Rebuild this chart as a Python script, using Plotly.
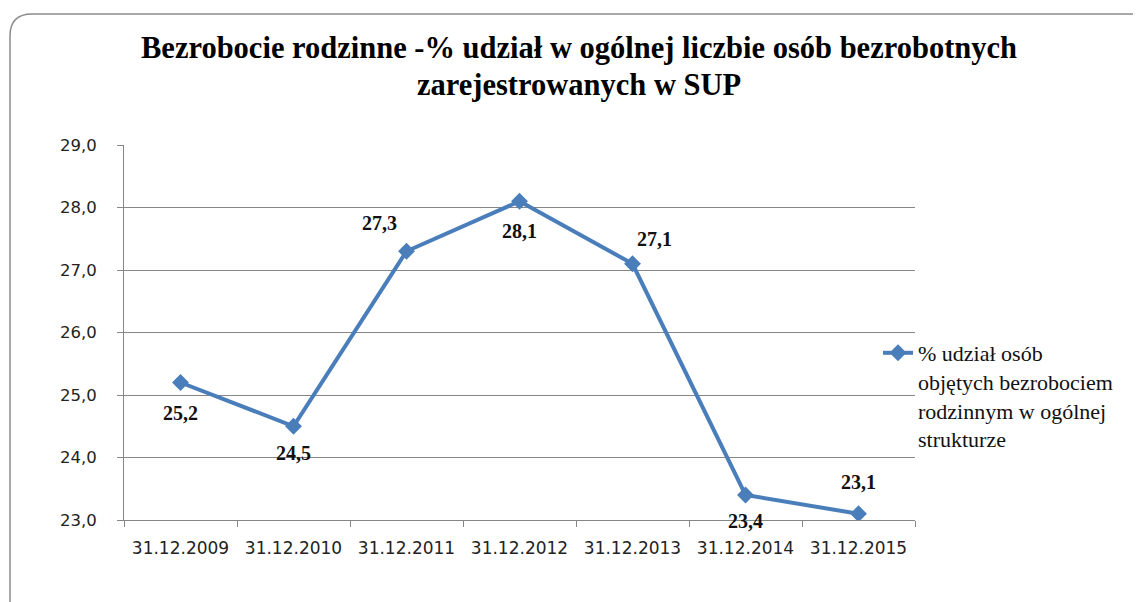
import plotly.graph_objects as go

categories = ["31.12.2009", "31.12.2010", "31.12.2011", "31.12.2012",
              "31.12.2013", "31.12.2014", "31.12.2015"]
values = [25.2, 24.5, 27.3, 28.1, 27.1, 23.4, 23.1]
value_labels = ["25,2", "24,5", "27,3", "28,1", "27,1", "23,4", "23,1"]
series_name = "% udział osób<br>objętych bezrobociem<br>rodzinnym w ogólnej<br>strukturze"
title_lines = ["Bezrobocie rodzinne -% udział w ogólnej liczbie osób bezrobotnych",
               "zarejestrowanych w SUP"]

# label offsets (pixels) - style only
label_shift = [(0, -30), (0, -27), (-27, 28), (0, -30), (22, 25), (0, -26), (0, 32)]

OFF = 8                      # page body margin
W, H = 1141 - OFF, 602 - OFF  # figure size
L, R, T, B = 124, 915, 145, 520   # plot area in screen pixels
LINE = "#4a7ebb"
GRID = "#868686"

fig = go.Figure()
fig.add_trace(go.Scatter(
    x=categories, y=values, mode="lines+markers", name=series_name,
    line=dict(color=LINE, width=4),
    marker=dict(symbol="diamond", size=13, color=LINE),
))

for c, v, t, (dx, dy) in zip(categories, values, value_labels, label_shift):
    fig.add_annotation(x=c, y=v, xref="x", yref="y", text="<b>%s</b>" % t,
                       showarrow=False, xshift=dx, yshift=dy,
                       font=dict(family="Liberation Serif", size=20, color="#111"))

def px(xp):
    return (xp - L) / (R - L)

def py(yp):
    return (B - yp) / (B - T)

# title lines
for txt, cy in zip(title_lines, [48, 85]):
    fig.add_annotation(x=px(579), y=py(cy), xref="paper", yref="paper",
                       xanchor="center", yanchor="middle", showarrow=False,
                       text="<b>%s</b>" % txt,
                       font=dict(family="Liberation Serif", size=30.5, color="#000"))

r = 22
path = ("M {x0},{y0} L {x0},{y1} Q {x0},{yt} {x2},{yt} L {xr},{yt}".format(
    x0=px(10), y0=py(612), y1=py(14 + r), yt=py(14), x2=px(10 + r), xr=px(1160)))
fig.add_shape(type="path", xref="paper", yref="paper", path=path,
              line=dict(color="#8c8c8c", width=1.5))

fig.update_layout(
    width=W, height=H,
    margin=dict(l=L - OFF, r=W - (R - OFF), t=T - OFF, b=H - (B - OFF)),
    paper_bgcolor="white", plot_bgcolor="white",
    separators=", ",
    showlegend=True,
    legend=dict(x=px(878), y=py(332), xanchor="left", yanchor="top",
                xref="paper", yref="paper", valign="top",
                bgcolor="rgba(0,0,0,0)",
                font=dict(family="Liberation Serif", size=22, color="#111"),
                tracegroupgap=0),
    xaxis=dict(type="category", showgrid=False, showline=True, linecolor=GRID,
               linewidth=1, ticks="outside", tickson="boundaries", ticklen=6,
               tickcolor=GRID, range=[-0.5, 6.5], ticklabelstandoff=13,
               tickfont=dict(family="DejaVu Sans", size=17, color="#222")),
    yaxis=dict(range=[23, 29], dtick=1, tickformat=".1f", showgrid=True,
               gridcolor=GRID, gridwidth=1, showline=True, linecolor=GRID,
               ticks="outside", ticklen=6, tickcolor=GRID, zeroline=False,
               ticklabelstandoff=17,
               tickfont=dict(family="DejaVu Sans", size=16.5, color="#222")),
)

fig.write_html("out.html")
